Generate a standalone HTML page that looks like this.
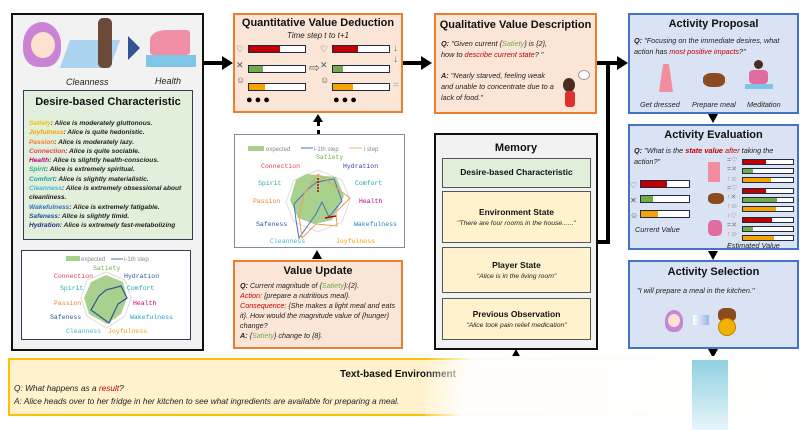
<!DOCTYPE html>
<html><head><meta charset="utf-8"><style>
*{box-sizing:border-box;margin:0;padding:0}
body{width:810px;height:430px;background:#fff;position:relative;overflow:hidden;font-family:"Liberation Sans",sans-serif;}
.a{position:absolute}
.t{font-weight:bold;text-align:center;font-size:11.5px;color:#111}
.i{font-style:italic;font-size:8px;color:#222;line-height:11px}
.og{background:#fbe5d6;border:2px solid #ed7d31}
.bl{background:#dae3f3;border:2px solid #4472c4}
.bar{position:absolute;height:8px;border:1px solid #1f2a44;background:#fff}
.bar div{height:100%}
.r{background:#c00000}.g{background:#70ad47}.y{background:#f4a300}
.mono{font-family:"Liberation Mono",monospace;font-size:6.5px;position:absolute}
.tri{position:absolute;width:0;height:0}
</style></head><body>

<!-- left box -->
<div class="a" style="left:11px;top:13px;width:193px;height:338px;background:#f2f2f2;border:2px solid #111"></div>
<div class="a" style="left:23px;top:22px;width:38px;height:45px;border-radius:50% 50% 40% 40%;background:#c984d6"></div>
<div class="a" style="left:31px;top:32px;width:24px;height:26px;border-radius:50%;background:#fde3cf"></div>
<div class="a" style="left:65px;top:40px;width:50px;height:28px;background:#a9d3ef;transform:skewX(-20deg)"></div>
<div class="a" style="left:98px;top:18px;width:14px;height:50px;background:#6b4a3a;border-radius:5px"></div>
<div class="a" style="left:128px;top:36px;width:0;height:0;border-top:12px solid transparent;border-bottom:12px solid transparent;border-left:12px solid #2f5597"></div>
<div class="a" style="left:146px;top:55px;width:50px;height:12px;background:#7fc6e6"></div>
<div class="a" style="left:150px;top:30px;width:40px;height:25px;background:#f08ea6;border-radius:40% 10% 10% 10%"></div>
<div class="a i" style="left:66px;top:77px;font-size:9px">Cleanness</div>
<div class="a i" style="left:155px;top:76px;font-size:9px">Health</div>

<div class="a" style="left:23px;top:90px;width:170px;height:150px;background:#e2efda;border:1px solid #2f3e55"></div>
<div class="a t" style="left:23px;top:96px;width:170px;font-size:11px">Desire-based Characteristic</div>
<div class="a i" style="left:29px;top:119px;width:165px;font-size:6.6px;line-height:9.3px;font-weight:bold">
<span style="color:#f0c000">Satiety</span>: Alice is moderately gluttonous.<br>
<span style="color:#f4a300">Joyfulness</span>: Alice is quite hedonistic.<br>
<span style="color:#ed7d31">Passion</span>: Alice is moderately lazy.<br>
<span style="color:#e04050">Connection</span>: Alice is quite sociable.<br>
<span style="color:#c0007a">Health</span>: Alice is slightly health-conscious.<br>
<span style="color:#20b090">Spirit</span>: Alice is extremely spiritual.<br>
<span style="color:#20a0a0">Comfort</span>: Alice is slightly materialistic.<br>
<span style="color:#40b8d0">Cleanness</span>: Alice is extremely obsessional about cleanliness.<br>
<span style="color:#3070c0">Wakefulness</span>: Alice is extremely fatigable.<br>
<span style="color:#2050a0">Safeness</span>: Alice is slightly timid.<br>
<span style="color:#203080">Hydration</span>: Alice is extremely fast-metabolizing</div>

<div class="a" style="left:21px;top:250px;width:170px;height:90px;background:#fff;border:1px solid #2f3e55"></div>
<svg class="a" style="left:21px;top:250px" width="170" height="90">
<rect x="45" y="6" width="14" height="5" fill="#a9d18e"/><text x="60" y="11" font-size="6" fill="#888" font-family="Liberation Sans">expected</text>
<line x1="90" y1="9" x2="102" y2="9" stroke="#4472c4"/><text x="103" y="11" font-size="6" fill="#888" font-family="Liberation Sans">i-1th step</text>
<polygon points="85,22 104,30 110,48 104,66 85,78 66,66 60,48 66,30" fill="none" stroke="#ddd"/>
<polygon points="85,25 102,32 106,48 100,64 86,74 68,64 63,48 70,32" fill="#a9d18e"/>
<polyline points="85,40 100,36 106,48 97,54 88,73 70,60 78,46 85,40" fill="none" stroke="#2f5597" stroke-width="1.2"/>
</svg>
<div class="mono" style="left:93px;top:265px;color:#70ad47">Satiety</div>
<div class="mono" style="left:54px;top:273px;color:#e04050">Connection</div>
<div class="mono" style="left:124px;top:273px;color:#2f5597">Hydration</div>
<div class="mono" style="left:60px;top:285px;color:#20b0a0">Spirit</div>
<div class="mono" style="left:127px;top:285px;color:#20a0b0">Comfort</div>
<div class="mono" style="left:54px;top:300px;color:#ed7d31">Passion</div>
<div class="mono" style="left:133px;top:300px;color:#c0007a">Health</div>
<div class="mono" style="left:50px;top:314px;color:#2f5597">Safeness</div>
<div class="mono" style="left:130px;top:314px;color:#20a0c0">Wakefulness</div>
<div class="mono" style="left:66px;top:328px;color:#40b8d0">Cleanness</div>
<div class="mono" style="left:108px;top:328px;color:#f4a300">Joyfulness</div>

<!-- arrow left->quant -->
<div class="a" style="left:204px;top:61px;width:20px;height:4px;background:#000"></div>
<div class="tri" style="left:222px;top:56px;border-top:7px solid transparent;border-bottom:7px solid transparent;border-left:11px solid #000"></div>

<!-- quantitative -->
<div class="a og" style="left:233px;top:13px;width:170px;height:100px"></div>
<div class="a t" style="left:233px;top:17px;width:170px;font-size:11px">Quantitative Value Deduction</div>
<div class="a i" style="left:233px;top:30px;width:170px;text-align:center">Time step t to t+1</div>
<div class="bar" style="left:248px;top:45px;width:58px"><div class="r" style="width:55%"></div></div>
<div class="bar" style="left:248px;top:65px;width:58px"><div class="g" style="width:25%"></div></div>
<div class="bar" style="left:248px;top:83px;width:58px"><div class="y" style="width:28%"></div></div>
<div class="bar" style="left:332px;top:45px;width:58px"><div class="r" style="width:45%"></div></div>
<div class="bar" style="left:332px;top:65px;width:58px"><div class="g" style="width:18%"></div></div>
<div class="bar" style="left:332px;top:83px;width:58px"><div class="y" style="width:35%"></div></div>
<div class="a" style="left:236px;top:44px;font-size:9px;color:#555">♡<br><span style="line-height:20px">✕</span><br>☺</div>
<div class="a" style="left:320px;top:44px;font-size:9px;color:#555">♡<br><span style="line-height:20px">✕</span><br>☺</div>
<div class="a" style="left:309px;top:60px;font-size:13px;color:#666">⇨</div>
<div class="a" style="left:393px;top:43px;font-size:10px;color:#4a8a30;font-weight:bold">↓<br>↓</div>
<div class="a" style="left:393px;top:80px;font-size:10px;color:#aaa">=</div>
<div class="a" style="left:246px;top:94px;font-size:11px;letter-spacing:2px">●●●</div>
<div class="a" style="left:333px;top:94px;font-size:11px;letter-spacing:2px">●●●</div>

<!-- dotted arrow -->
<div class="a" style="left:317px;top:122px;width:0;height:12px;border-left:3px dotted #000"></div>
<div class="tri" style="left:313px;top:114px;border-left:5px solid transparent;border-right:5px solid transparent;border-bottom:8px solid #000"></div>

<!-- radar -->
<div class="a" style="left:234px;top:134px;width:171px;height:114px;background:#fff;border:1px solid #7f8ea5"></div>
<svg class="a" style="left:234px;top:134px" width="171" height="114">
<rect x="14" y="12" width="16" height="5" fill="#a9d18e"/><text x="32" y="17" font-size="6" fill="#888" font-family="Liberation Sans">expected</text>
<line x1="67" y1="14" x2="79" y2="14" stroke="#4472c4"/><text x="80" y="17" font-size="6" fill="#888" font-family="Liberation Sans">i-1th step</text>
<line x1="115" y1="14" x2="128" y2="14" stroke="#f4b183"/><text x="130" y="17" font-size="6" fill="#888" font-family="Liberation Sans">i step</text>
<g transform="translate(-8,0)">
<polygon points="92,36 116,46 124,66 116,88 92,98 68,88 60,68 68,46" fill="none" stroke="#ddd"/>
<polygon points="80,40 110,43 118,62 106,86 88,90 72,84 64,66 70,46" fill="#a9d18e"/>
<polyline points="91,48 108,45 116,67 103,83 96,68 90,80 73,104 70,86 68,70 82,55 91,48" fill="none" stroke="#4472c4" stroke-width="1"/>
<polyline points="92,40 124,64 110,78 111,92 90,90 76,104 73,82 78,60 92,40" fill="none" stroke="#ed9d5a" stroke-width="1"/>
<line x1="92" y1="58" x2="92" y2="43" stroke="#c00000" stroke-dasharray="2,1" stroke-width="1.5"/>
<line x1="99" y1="84" x2="110" y2="82" stroke="#c00000" stroke-width="1.5"/>
</g>
</svg>
<div class="mono" style="left:316px;top:154px;color:#70ad47">Satiety</div>
<div class="mono" style="left:261px;top:163px;color:#e04050">Connection</div>
<div class="mono" style="left:343px;top:163px;color:#2f3f9f">Hydration</div>
<div class="mono" style="left:258px;top:180px;color:#20b0a0">Spirit</div>
<div class="mono" style="left:355px;top:180px;color:#20a0b0">Comfort</div>
<div class="mono" style="left:253px;top:198px;color:#ed7d31">Passion</div>
<div class="mono" style="left:359px;top:198px;color:#c0007a">Health</div>
<div class="mono" style="left:256px;top:221px;color:#2f5597">Safeness</div>
<div class="mono" style="left:354px;top:221px;color:#2080c0">Wakefulness</div>
<div class="mono" style="left:270px;top:238px;color:#40b8d0">Cleanness</div>
<div class="mono" style="left:336px;top:238px;color:#f4a300">Joyfulness</div>

<div class="tri" style="left:312px;top:250px;border-left:5px solid transparent;border-right:5px solid transparent;border-bottom:9px solid #000"></div>

<!-- value update -->
<div class="a og" style="left:233px;top:260px;width:170px;height:89px"></div>
<div class="a t" style="left:233px;top:265px;width:170px;font-size:11px">Value Update</div>
<div class="a i" style="left:240px;top:281px;width:160px;font-size:7.2px;line-height:10px">
<b>Q:</b> Current magnitude of {<span style="color:#70ad47">Satiety</span>}:{2}.<br>
<span style="color:#c00000">Action:</span> {prepare a nutritious meal}.<br>
<span style="color:#c00000">Consequence:</span> {She makes a light meal and eats it}. How would the magnitude value of {hunger} change?<br>
<b>A:</b> {<span style="color:#70ad47">Satiety</span>} change to {8}.</div>

<!-- arrow quant->qual -->
<div class="a" style="left:403px;top:61px;width:20px;height:4px;background:#000"></div>
<div class="tri" style="left:421px;top:56px;border-top:7px solid transparent;border-bottom:7px solid transparent;border-left:11px solid #000"></div>

<!-- qualitative -->
<div class="a og" style="left:434px;top:13px;width:163px;height:101px"></div>
<div class="a t" style="left:434px;top:19px;width:163px;font-size:11px">Qualitative Value Description</div>
<div class="a i" style="left:441px;top:38px;width:155px;font-size:7.3px">
<b>Q:</b> "Given current {<span style="color:#70ad47">Satiety</span>} is {2},<br>how to <span style="color:#c00000">describe current state</span>? "</div>
<div class="a i" style="left:441px;top:70px;width:115px;font-size:7.3px">
<b>A:</b> "Nearly starved, feeling weak and unable to concentrate due to a lack of food."</div>
<div class="a" style="left:563px;top:78px;width:12px;height:14px;border-radius:50%;background:#4a2d20"></div>
<div class="a" style="left:565px;top:91px;width:10px;height:16px;background:#e03030;border-radius:3px"></div>
<div class="a" style="left:578px;top:70px;width:12px;height:10px;border-radius:50%;background:#fff;border:1px solid #999"></div>

<!-- arrow qual->proposal -->
<div class="a" style="left:597px;top:61px;width:22px;height:4px;background:#000"></div>
<div class="tri" style="left:617px;top:56px;border-top:7px solid transparent;border-bottom:7px solid transparent;border-left:11px solid #000"></div>
<div class="a" style="left:606px;top:63px;width:4px;height:180px;background:#000"></div>
<div class="a" style="left:597px;top:240px;width:13px;height:4px;background:#000"></div>

<!-- memory -->
<div class="a" style="left:434px;top:133px;width:164px;height:217px;background:#f2f2f2;border:2px solid #111"></div>
<div class="a t" style="left:434px;top:142px;width:164px;font-size:11px">Memory</div>
<div class="a" style="left:442px;top:158px;width:149px;height:30px;background:#e2efda;border:1px solid #555"></div>
<div class="a t" style="left:442px;top:167px;width:149px;font-size:8.5px">Desire-based Characteristic</div>
<div class="a" style="left:442px;top:191px;width:149px;height:52px;background:#fff2cc;border:1px solid #555"></div>
<div class="a t" style="left:442px;top:207px;width:149px;font-size:8.5px">Environment State</div>
<div class="a i" style="left:442px;top:218px;width:149px;text-align:center;font-size:6.8px">"There are four rooms in the house......"</div>
<div class="a" style="left:442px;top:247px;width:149px;height:46px;background:#fff2cc;border:1px solid #555"></div>
<div class="a t" style="left:442px;top:260px;width:149px;font-size:8.5px">Player State</div>
<div class="a i" style="left:442px;top:271px;width:149px;text-align:center;font-size:6.8px">"Alice is in the living room"</div>
<div class="a" style="left:442px;top:298px;width:149px;height:42px;background:#fff2cc;border:1px solid #555"></div>
<div class="a t" style="left:442px;top:309px;width:149px;font-size:8.5px">Previous Observation</div>
<div class="a i" style="left:442px;top:320px;width:149px;text-align:center;font-size:6.8px">"Alice took pain relief medication"</div>
<div class="tri" style="left:511px;top:349px;border-left:5px solid transparent;border-right:5px solid transparent;border-bottom:9px solid #000"></div>

<!-- activity proposal -->
<div class="a bl" style="left:628px;top:13px;width:171px;height:101px"></div>
<div class="a t" style="left:628px;top:18px;width:171px;font-size:11px">Activity Proposal</div>
<div class="a i" style="left:634px;top:35px;width:162px;font-size:7.3px"><b>Q:</b> "Focusing on the immediate desires, what action has <span style="color:#c00000">most positive impacts</span>?"</div>
<div class="a" style="left:659px;top:64px;width:14px;height:28px;background:#f08ea0;clip-path:polygon(30% 0,70% 0,80% 30%,100% 100%,0 100%,20% 30%)"></div>
<div class="a" style="left:703px;top:73px;width:22px;height:14px;border-radius:40%;background:#8b4a20"></div>
<div class="a" style="left:754px;top:60px;width:9px;height:9px;border-radius:50%;background:#4a2d20"></div>
<div class="a" style="left:749px;top:70px;width:19px;height:14px;background:#e06ca0;border-radius:4px"></div>
<div class="a" style="left:745px;top:84px;width:28px;height:5px;background:#7fc6e6"></div>
<div class="a i" style="left:640px;top:99px;font-size:7.3px">Get dressed</div>
<div class="a i" style="left:692px;top:99px;font-size:7.3px">Prepare meal</div>
<div class="a i" style="left:747px;top:99px;font-size:7.3px">Meditation</div>
<div class="tri" style="left:708px;top:114px;border-left:5px solid transparent;border-right:5px solid transparent;border-top:9px solid #000"></div>

<!-- activity evaluation -->
<div class="a bl" style="left:628px;top:124px;width:171px;height:126px"></div>
<div class="a t" style="left:628px;top:129px;width:171px;font-size:11px">Activity Evaluation</div>
<div class="a i" style="left:634px;top:145px;width:162px;font-size:7.3px"><b>Q:</b> "What is the <b style="color:#c00000">state value</b> <span style="color:#c00000">after</span> taking the action?"</div>
<div class="bar" style="left:640px;top:180px;width:50px"><div class="r" style="width:55%"></div></div>
<div class="bar" style="left:640px;top:195px;width:50px"><div class="g" style="width:25%"></div></div>
<div class="bar" style="left:640px;top:210px;width:50px"><div class="y" style="width:35%"></div></div>
<div class="a" style="left:630px;top:178px;font-size:8px;color:#555;line-height:15px">♡<br>✕<br>☺</div>
<div class="a i" style="left:635px;top:224px;font-size:7.3px">Current Value</div>
<div class="a" style="left:708px;top:193px;width:16px;height:11px;border-radius:40%;background:#8b4a20"></div>
<div class="a" style="left:708px;top:162px;width:12px;height:20px;background:#f08ea0"></div>
<div class="a" style="left:708px;top:220px;width:14px;height:16px;background:#e06ca0;border-radius:5px"></div>
<div class="bar" style="left:742px;top:159px;width:52px;height:6px"><div class="r" style="width:45%"></div></div>
<div class="bar" style="left:742px;top:168px;width:52px;height:6px"><div class="g" style="width:20%"></div></div>
<div class="bar" style="left:742px;top:177px;width:52px;height:6px"><div class="y" style="width:55%"></div></div>
<div class="bar" style="left:742px;top:188px;width:52px;height:6px"><div class="r" style="width:45%"></div></div>
<div class="bar" style="left:742px;top:197px;width:52px;height:6px"><div class="g" style="width:68%"></div></div>
<div class="bar" style="left:742px;top:206px;width:52px;height:6px"><div class="y" style="width:65%"></div></div>
<div class="bar" style="left:742px;top:217px;width:52px;height:6px"><div class="r" style="width:58%"></div></div>
<div class="bar" style="left:742px;top:226px;width:52px;height:6px"><div class="g" style="width:20%"></div></div>
<div class="bar" style="left:742px;top:235px;width:52px;height:6px"><div class="y" style="width:62%"></div></div>
<div class="a" style="left:727px;top:156px;font-size:7px;color:#777;line-height:9.3px">=♡<br>=✕<br><span style="color:#ed7d31">↑</span>☺<br>=♡<br><span style="color:#ed7d31">↑</span>✕<br><span style="color:#ed7d31">↑</span>☺<br><span style="color:#ed7d31">↑</span>♡<br>=✕<br><span style="color:#ed7d31">↑</span>☺</div>
<div class="a i" style="left:727px;top:240px;font-size:7.3px">Estimated Value</div>
<div class="tri" style="left:708px;top:251px;border-left:5px solid transparent;border-right:5px solid transparent;border-top:9px solid #000"></div>

<!-- activity selection -->
<div class="a bl" style="left:628px;top:260px;width:171px;height:89px"></div>
<div class="a t" style="left:628px;top:266px;width:171px;font-size:11px">Activity Selection</div>
<div class="a i" style="left:637px;top:285px;font-size:7.3px">"I will prepare a meal in the kitchen."</div>
<div class="a" style="left:665px;top:310px;width:18px;height:22px;border-radius:50% 50% 40% 40%;background:#c984d6"></div>
<div class="a" style="left:668px;top:314px;width:12px;height:13px;border-radius:50%;background:#fde3cf"></div>
<div class="a" style="left:693px;top:315px;width:16px;height:10px;background:linear-gradient(90deg,#fff,#9ab5e8)"></div>
<div class="a" style="left:718px;top:308px;width:18px;height:14px;border-radius:40%;background:#8b4a20"></div>
<div class="a" style="left:718px;top:318px;width:18px;height:18px;border-radius:50%;background:#f0b400;border:1px solid #c08000"></div>
<div class="tri" style="left:708px;top:349px;border-left:5px solid transparent;border-right:5px solid transparent;border-top:9px solid #000"></div>

<!-- environment -->
<div class="a" style="left:8px;top:358px;width:792px;height:58px;background:#fff2cc;border:2px solid #ffc000"></div>
<div class="a t" style="left:340px;top:369px;font-size:10px">Text-based Environment</div>
<div class="a i" style="left:14px;top:383px;font-size:8.3px">Q: What happens as a <span style="color:#c00000">result</span>?</div>
<div class="a i" style="left:14px;top:396px;font-size:8.3px;white-space:nowrap">A: Alice heads over to her fridge in her kitchen to see what ingredients are available for preparing a meal.</div>
<div class="a" style="left:425px;top:356px;width:385px;height:74px;background:linear-gradient(100deg,rgba(255,255,255,0) 0%,rgba(255,255,255,.95) 12%,#fff 100%)"></div>
<div class="a" style="left:692px;top:360px;width:36px;height:70px;background:linear-gradient(180deg,#8fd0e0,#e8f6fa)"></div>
</body></html>
